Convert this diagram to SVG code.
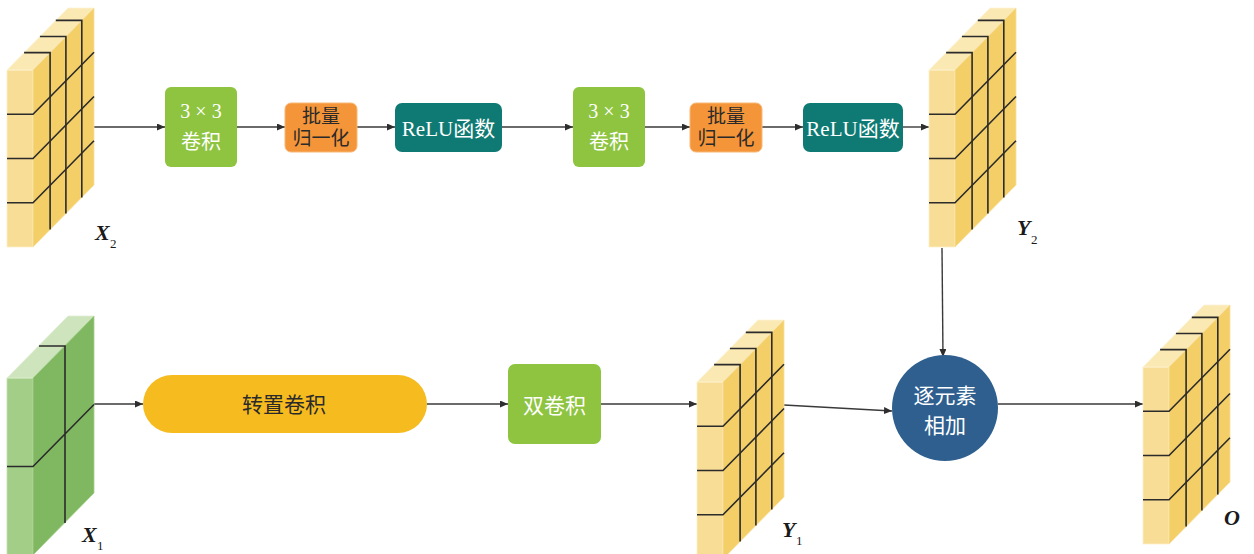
<svg xmlns="http://www.w3.org/2000/svg" xmlns:xlink="http://www.w3.org/1999/xlink" width="1254" height="554" viewBox="0 0 1254 554">
  <style>
    .grid { fill: none; stroke: #2b2b2b; stroke-width: 1.6; }
    .face { stroke-width: 0.8; }
    .conn { fill: none; stroke: #3a3a3a; stroke-width: 1.4; }
    .lbl { font-family: "Liberation Serif", "Noto Sans CJK SC", serif; text-anchor: middle; dominant-baseline: central; }
    .white { fill: #ffffff; }
    .dark { fill: #2a2a2a; }
    .var { font-family: "Liberation Serif", serif; font-style: italic; font-weight: bold; font-size: 22px; fill: #1a1a1a; }
    .sub { font-family: "Liberation Serif", serif; font-size: 13px; fill: #1a1a1a; }
  </style>
  <defs>
    <marker id="arrow" viewBox="0 0 8 7" refX="8" refY="3.5" markerWidth="8" markerHeight="7" markerUnits="userSpaceOnUse" orient="auto">
      <path d="M0,0 L8,3.5 L0,7 z" fill="#2e2e2e"/>
    </marker>
    <!-- 4x4x4 feature block, origin at front-top-left corner -->
    <g id="cube-yellow">
      <rect class="face" x="0" y="0" width="26" height="177" fill="#f8dd96" stroke="#fcefc6"/>
      <polygon class="face" points="0,0 26,0 87,-62 61,-62" fill="#fbe9b4" stroke="#fdf3d6"/>
      <polygon class="face" points="26,0 87,-62 87,115 26,177" fill="#f4cf68" stroke="#f8e0a0"/>
      <path class="grid" d="M0,44.25 H26 L87,-17.75 M0,88.5 H26 L87,26.5 M0,132.75 H26 L87,70.75"/>
      <path class="grid" d="M17.1,-17.4 H43.1 V159.6 M32.9,-33.5 H58.9 V143.5 M48.8,-49.6 H74.8 V127.4"/>
    </g>
    <!-- 2x2x2 input block -->
    <g id="cube-green">
      <rect class="face" x="0" y="0" width="26" height="177" fill="#a3ce87" stroke="#c4e0b0"/>
      <polygon class="face" points="0,0 26,0 87,-62 61,-62" fill="#cde4bc" stroke="#e0efd4"/>
      <polygon class="face" points="26,0 87,-62 87,115 26,177" fill="#80b862" stroke="#a6cf8c"/>
      <path class="grid" d="M0,88.5 H26 L87,26.5 M32,-32 H58 V145"/>
    </g>
  </defs>

  <!-- connectors -->
  <g id="connectors">
    <path class="conn" d="M93,127 H165" marker-end="url(#arrow)"/>
    <path class="conn" d="M237,127 H285" marker-end="url(#arrow)"/>
    <path class="conn" d="M357,127 H395" marker-end="url(#arrow)"/>
    <path class="conn" d="M502,127 H573" marker-end="url(#arrow)"/>
    <path class="conn" d="M645,127 H690" marker-end="url(#arrow)"/>
    <path class="conn" d="M762,127 H803" marker-end="url(#arrow)"/>
    <path class="conn" d="M903,127 H929" marker-end="url(#arrow)"/>
    <path class="conn" d="M942,248 L943,357" marker-end="url(#arrow)"/>
    <path class="conn" d="M93,404 H143" marker-end="url(#arrow)"/>
    <path class="conn" d="M427,404 H508" marker-end="url(#arrow)"/>
    <path class="conn" d="M601,404 H697" marker-end="url(#arrow)"/>
    <path class="conn" d="M784,405 L892,411" marker-end="url(#arrow)"/>
    <path class="conn" d="M998,404 H1143" marker-end="url(#arrow)"/>
  </g>

  <!-- upper branch -->
  <g id="x2">
    <use xlink:href="#cube-yellow" transform="translate(7,70)"/>
    <text class="var" x="95" y="240">X</text><text class="sub" x="110" y="248">2</text>
  </g>
  <g id="conv3x3-a">
    <rect x="165" y="87" width="72" height="80" rx="6" fill="#8ec43f"/>
    <text class="lbl white" x="201" y="111" font-size="20">3 × 3</text>
    <text class="lbl white" x="201" y="142" font-size="20">卷积</text>
  </g>
  <g id="bn-a">
    <rect x="285" y="103" width="72" height="49" rx="6" fill="#f49539" stroke="#f8b777" stroke-width="1"/>
    <text class="lbl dark" x="321" y="116" font-size="19">批量</text>
    <text class="lbl dark" x="321" y="138" font-size="19">归一化</text>
  </g>
  <g id="relu-a">
    <rect x="395" y="103" width="107" height="49" rx="7" fill="#0f7a74"/>
    <text class="lbl white" x="448.5" y="129" font-size="21">ReLU函数</text>
  </g>
  <g id="conv3x3-b">
    <rect x="573" y="87" width="72" height="80" rx="6" fill="#8ec43f"/>
    <text class="lbl white" x="609" y="111" font-size="20">3 × 3</text>
    <text class="lbl white" x="609" y="142" font-size="20">卷积</text>
  </g>
  <g id="bn-b">
    <rect x="690" y="103" width="72" height="49" rx="6" fill="#f49539" stroke="#f8b777" stroke-width="1"/>
    <text class="lbl dark" x="726" y="116" font-size="19">批量</text>
    <text class="lbl dark" x="726" y="138" font-size="19">归一化</text>
  </g>
  <g id="relu-b">
    <rect x="803" y="103" width="100" height="49" rx="7" fill="#0f7a74"/>
    <text class="lbl white" x="853" y="129" font-size="21">ReLU函数</text>
  </g>
  <g id="y2">
    <use xlink:href="#cube-yellow" transform="translate(929,70)"/>
    <text class="var" x="1017" y="235">Y</text><text class="sub" x="1031" y="244">2</text>
  </g>

  <!-- lower branch -->
  <g id="x1">
    <use xlink:href="#cube-green" transform="translate(7,378)"/>
    <text class="var" x="82" y="542">X</text><text class="sub" x="97" y="550">1</text>
  </g>
  <g id="transpose-conv">
    <rect x="143" y="375" width="284" height="58" rx="29" fill="#f5bb1f"/>
    <text class="lbl dark" x="284" y="405" font-size="21">转置卷积</text>
  </g>
  <g id="double-conv">
    <rect x="508" y="364" width="93" height="80" rx="7" fill="#8ec43f"/>
    <text class="lbl white" x="554.5" y="406" font-size="21">双卷积</text>
  </g>
  <g id="y1">
    <use xlink:href="#cube-yellow" transform="translate(697,382)"/>
    <text class="var" x="782" y="537">Y</text><text class="sub" x="796" y="545">1</text>
  </g>
  <g id="add">
    <circle cx="945" cy="408" r="53" fill="#2e5f8f"/>
    <text class="lbl white" x="945" y="396" font-size="21">逐元素</text>
    <text class="lbl white" x="945" y="426" font-size="21">相加</text>
  </g>
  <g id="o">
    <use xlink:href="#cube-yellow" transform="translate(1143,367)"/>
    <text class="var" x="1224" y="525">O</text>
  </g>
</svg>
